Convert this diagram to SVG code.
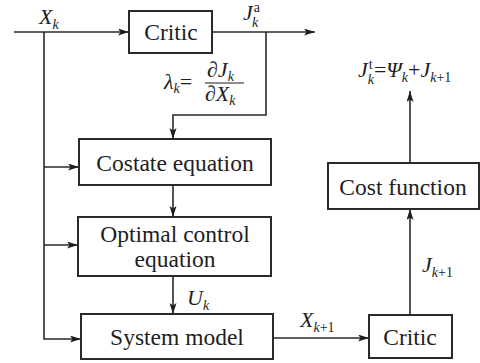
<svg xmlns="http://www.w3.org/2000/svg" width="480" height="363" viewBox="0 0 480 363">
<style>
.box{fill:#fff;stroke:#2a2a2a;stroke-width:2}
.t{font-family:'Liberation Serif','Times New Roman',serif;font-size:23.5px;fill:#1e1e1e;text-anchor:middle}
.m{font-family:'Liberation Serif','Times New Roman',serif;font-size:22px;fill:#1e1e1e;font-style:italic}
.s{font-size:14px}
.up{font-size:14px;font-style:normal}
.c{fill:none;stroke:#2a2a2a;stroke-width:1.6}
</style>
<defs>
<marker id="a" markerUnits="userSpaceOnUse" markerWidth="12" markerHeight="8" refX="11" refY="3.5" orient="auto">
<path d="M0,0 L11,3.5 L0,7 L2.5,3.5 z" fill="#1e1e1e"/>
</marker>
</defs>
<rect width="480" height="363" fill="#fff"/>
<g id="connectors">
<path class="c" d="M14,32 H129" marker-end="url(#a)"/>
<path class="c" d="M212,32 H315" marker-end="url(#a)"/>
<path class="c" d="M266,32 V115 H173 V139" marker-end="url(#a)"/>
<path class="c" d="M44,32 V339 H81" marker-end="url(#a)"/>
<path class="c" d="M44,167 H79" marker-end="url(#a)"/>
<path class="c" d="M44,245 H78" marker-end="url(#a)"/>
<path class="c" d="M173,185 V217" marker-end="url(#a)"/>
<path class="c" d="M173,276 V314" marker-end="url(#a)"/>
<path class="c" d="M273,338 H369" marker-end="url(#a)"/>
<path class="c" d="M410,315 V209" marker-end="url(#a)"/>
<path class="c" d="M410,163 V91" marker-end="url(#a)"/>
<line x1="205" y1="83" x2="244" y2="83" stroke="#1e1e1e" stroke-width="1.2"/>
</g>
<g id="critic1">
<rect class="box" x="129" y="11" width="83" height="42"/>
<text class="t" x="171" y="40">Critic</text>
</g>
<g id="costate">
<rect class="box" x="79" y="139" width="192" height="46"/>
<text class="t" x="175" y="171">Costate equation</text>
</g>
<g id="optimal">
<rect class="box" x="78" y="217" width="193" height="59"/>
<text class="t" x="175" y="242">Optimal control</text>
<text class="t" x="175" y="267">equation</text>
</g>
<g id="system">
<rect class="box" x="81" y="314" width="192" height="45"/>
<text class="t" x="177" y="345">System model</text>
</g>
<g id="cost">
<rect class="box" x="328" y="163" width="151" height="46"/>
<text class="t" x="403" y="195">Cost function</text>
</g>
<g id="critic2">
<rect class="box" x="369" y="315" width="83" height="43"/>
<text class="t" x="410" y="345">Critic</text>
</g>
<g id="labels">
<text class="m" x="39" y="24">X<tspan class="s" dy="5">k</tspan></text>
<text class="m" x="243" y="20">J<tspan class="up" dx="1" dy="-8">a</tspan><tspan class="s" dx="-8" dy="15">k</tspan></text>
<text class="m" x="164" y="89">λ<tspan class="s" dy="4">k</tspan><tspan font-style="normal" dy="-4">=</tspan></text>
<text class="m" x="207" y="77">∂J<tspan class="s" dy="4">k</tspan></text>
<text class="m" x="205" y="101">∂X<tspan class="s" dy="4">k</tspan></text>
<text class="m" x="358" y="77">J<tspan class="up" dx="1" dy="-8">t</tspan><tspan class="s" dx="-5" dy="15">k</tspan><tspan font-style="normal" dy="-7">=</tspan><tspan>Ψ</tspan><tspan class="s" dy="5">k</tspan><tspan font-style="normal" dy="-5">+</tspan><tspan>J</tspan><tspan class="s" dy="5">k</tspan><tspan class="up" dy="0">+1</tspan></text>
<text class="m" x="187" y="305">U<tspan class="s" dy="5">k</tspan></text>
<text class="m" x="300" y="327">X<tspan class="s" dy="5">k</tspan><tspan class="up">+1</tspan></text>
<text class="m" x="422" y="272">J<tspan class="s" dy="5">k</tspan><tspan class="up">+1</tspan></text>
</g>
</svg>
